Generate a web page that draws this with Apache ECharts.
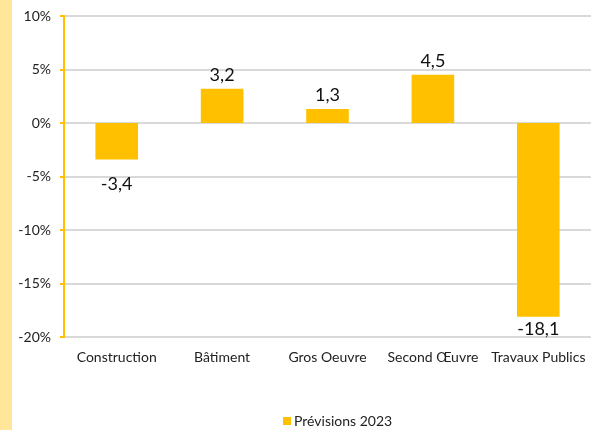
<!DOCTYPE html>
<html>
<head>
<meta charset="utf-8">
<script src="https://cdn.jsdelivr.net/npm/echarts@6/dist/echarts.min.js"></script>
<style>
  html, body { margin: 0; padding: 0; background: #fff; }
  #strip { position: absolute; left: 0; top: 0; width: 12px; height: 430px; background: #FFE699; }
  #chart { position: absolute; left: 0; top: 0; width: 591px; height: 430px; }
</style>
</head>
<body>
<div id="strip"></div>
<div id="chart"></div>
<script>
const categories = ['Construction', 'Bâtiment', 'Gros Oeuvre', 'Second Œuvre', 'Travaux Publics'];
const previsions2023 = [-3.4, 3.2, 1.3, 4.5, -18.1];
const seriesName = 'Prévisions 2023';
const yTicks = [-20, -15, -10, -5, 0, 5, 10];

const FONT = 'Lato, "Open Sans", sans-serif';
const chart = echarts.init(document.getElementById('chart'), null, { renderer: 'canvas' });

// label gap under each negative bar
const negGap = { '-3.4': 16, '-18.1': 4 };

chart.setOption({
  backgroundColor: 'transparent',
  animation: false,
  grid: { left: 64, right: 0, top: 16, bottom: 93, containLabel: false },
  legend: {
    top: 414,
    left: 283,
    itemWidth: 8,
    itemHeight: 8,
    itemGap: 10,
    padding: 0,
    icon: 'rect',
    textStyle: { fontFamily: FONT, fontSize: 14, color: '#222', padding: [0, 0, 0, -2] },
    data: [seriesName]
  },
  xAxis: {
    type: 'category',
    data: categories,
    axisLine: { show: false, onZero: false },
    axisTick: { show: false },
    axisLabel: { fontFamily: FONT, fontSize: 14, color: '#222', margin: 13, interval: 0 }
  },
  yAxis: {
    type: 'value',
    min: yTicks[0],
    max: yTicks[yTicks.length - 1],
    interval: 5,
    axisLine: { show: true, lineStyle: { color: '#FFC000', width: 2 } },
    axisTick: { show: true, length: 4, lineStyle: { color: '#FFC000', width: 2 } },
    axisLabel: {
      fontFamily: FONT, fontSize: 14, color: '#222', margin: 13,
      formatter: v => v + '%'
    },
    splitLine: { show: true, lineStyle: { color: '#D9D9D9', width: 2 } }
  },
  series: [{
    name: seriesName,
    type: 'bar',
    barWidth: '40.4%',
    itemStyle: { color: '#FFC000' },
    data: previsions2023.map(v => ({
      value: v,
      label: {
        position: v < 0 ? 'bottom' : 'top',
        distance: v < 0 ? (negGap[String(v)] || 5) : 5
      }
    })),
    label: {
      show: true,
      fontFamily: FONT,
      fontSize: 18,
      color: '#111',
      formatter: p => String(p.value).replace('.', ',')
    }
  }]
});
</script>
</body>
</html>
